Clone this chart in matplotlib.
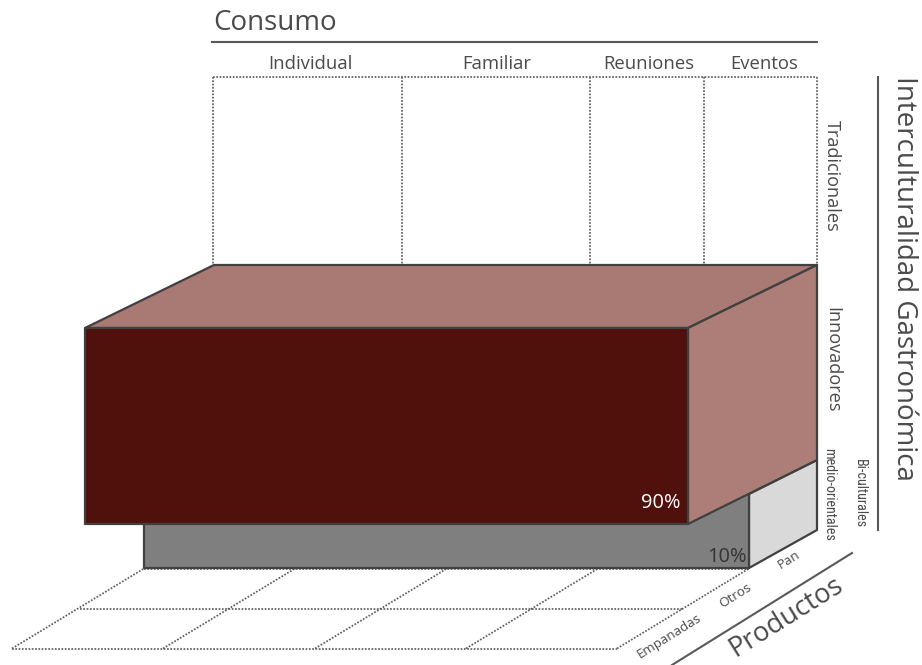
import matplotlib
matplotlib.use("Agg")
import matplotlib.pyplot as plt

consumo = ["Individual", "Familiar", "Reuniones", "Eventos"]
productos = ["Empanadas", "Otros", "Pan"]
niveles = ["Tradicionales", "Innovadores"]
nivel_bajo = ["medio-orientales", "Bi-culturales"]
porcentajes = [90, 10]

DARK = "#404040"
TEXT = "#4a4a4a"
FONT = "Open Sans"
NARROW = ["Roboto Condensed", "Liberation Sans Narrow", "Open Sans"]

# column edges on the back wall and on the floor, in pixels
wall_x = [213, 402, 590, 704, 817]
wall_top, wall_bottom = 77, 265
floor_x = [12, 163, 315, 466, 617]
floor_dx = 132
floor_y = [648.5, 608.5, 568.5]


def dotted(ax, xs, ys):
    ax.plot(xs, ys, color="#5f5f5f", lw=1.25, ls=(0, (1, 0.9)), zorder=1)


def box(ax, left, right, top, bottom, dx, dy_top, dy_bottom, front, roof, side, z):
    edge = dict(edgecolor=DARK, linewidth=1.6, joinstyle="round", zorder=z)
    ax.fill([left, left + dx, right + dx, right], [top, top - dy_top, top - dy_top, top],
            facecolor=roof, **edge)
    ax.fill([right, right + dx, right + dx, right],
            [top, top - dy_top, bottom - dy_bottom, bottom], facecolor=side, **edge)
    ax.fill([left, right, right, left], [top, top, bottom, bottom], facecolor=front, **edge)


fig = plt.figure(figsize=(9.22, 6.65), dpi=100, facecolor="white")
ax = fig.add_axes([0, 0, 1, 1])
ax.set_xlim(0, 922)
ax.set_ylim(665, 0)
ax.axis("off")

# back wall grid
dotted(ax, [wall_x[0], wall_x[-1]], [wall_top, wall_top])
for x in wall_x:
    dotted(ax, [x, x], [wall_top, wall_bottom])

# floor grid
dotted(ax, [floor_x[0], floor_x[-1]], [floor_y[0], floor_y[0]])
dotted(ax, [floor_x[0] + 68, floor_x[-1] + 65], [floor_y[1], floor_y[1]])
dotted(ax, [floor_x[0] + floor_dx, floor_x[-1] + floor_dx], [floor_y[2], floor_y[2]])
for x in floor_x:
    dotted(ax, [x, x + floor_dx], [floor_y[0], floor_y[2]])

# boxes
box(ax, 144, 749, 494, 568, 68, 34, 38, "#7f7f7f", "#7f7f7f", "#d9d9d9", 3)
box(ax, 85, 688, 328, 524, 129, 63, 64, "#50110c", "#a97a74", "#ad7d78", 4)

ax.text(661, 503, f"{porcentajes[0]}%", color="white", fontsize=14.4, family=FONT,
        ha="center", va="center", zorder=6)
ax.text(727, 557, f"{porcentajes[1]}%", color="#333333", fontsize=14.4, family=FONT,
        ha="center", va="center", zorder=6)

# axis rules
rule = dict(color="#595959", lw=1.5, zorder=2)
ax.plot([212, 817], [41.5, 41.5], **rule)
ax.plot([878, 878], [77, 530], **rule)
ax.plot([672, 852], [665, 553], clip_on=True, **rule)

# titles
ax.text(213, 23, "Consumo", color=TEXT, fontsize=20, family=FONT, ha="left", va="center")
ax.text(904, 278, "Interculturalidad Gastronómica", color=TEXT, fontsize=20, family=FONT,
        rotation=-90, ha="center", va="center")
ax.text(786, 617, "Productos", color=TEXT, fontsize=19.5, family=FONT, rotation=32,
        rotation_mode="anchor", ha="center", va="center")

for name, x in zip(consumo, [310, 497, 649, 764]):
    ax.text(x, 64, name, color=TEXT, fontsize=13.3, family=FONT, ha="center", va="center")

for name, y in zip(niveles, [176, 360]):
    ax.text(832, y, name, color=TEXT, fontsize=13.1, family=FONT, rotation=-90,
            ha="center", va="center")
for name, x, y in zip(nivel_bajo, [829, 860], [494, 494]):
    ax.text(x, y, name, color=TEXT, fontsize=10.2, family=NARROW, rotation=-90,
            ha="center", va="center")

for name, (x, y) in zip(productos, [(669, 636), (735, 596), (789, 560)]):
    ax.text(x, y, name, color=TEXT, fontsize=9.6, family=FONT, rotation=32,
            rotation_mode="anchor", ha="center", va="center")

fig.savefig("out.png", dpi=100)
